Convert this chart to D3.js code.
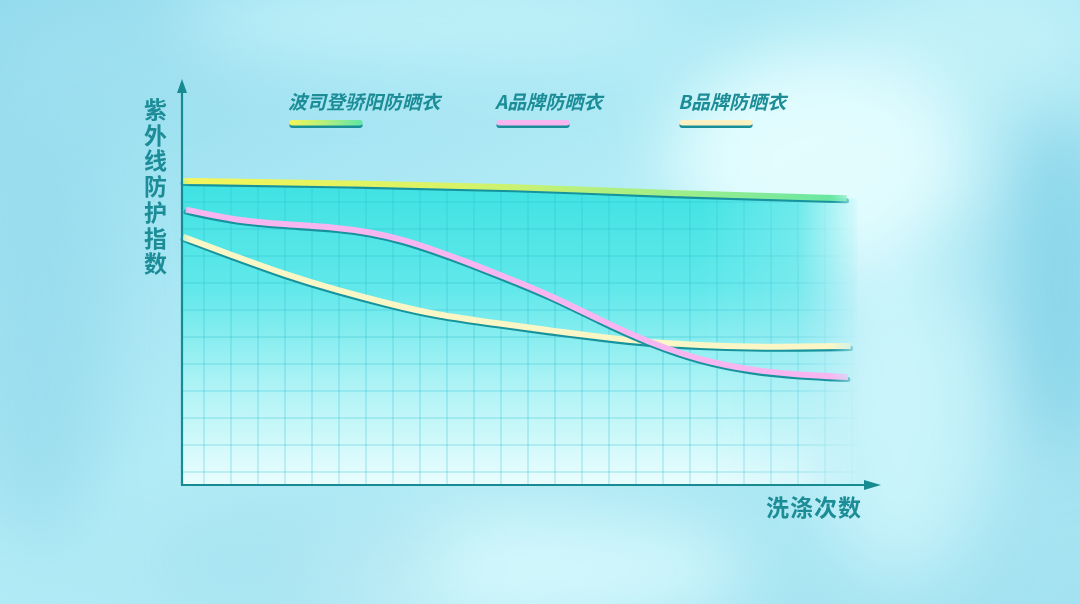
<!DOCTYPE html>
<html><head><meta charset="utf-8">
<script src="https://cdn.jsdelivr.net/npm/d3@7"></script>
<style>html,body{margin:0;padding:0;overflow:hidden;background:#a8e6f2}</style>
</head><body><svg id="c" width="1080" height="604"></svg>
<script>
// ---- data ----
const seriesNames = ["波司登骄阳防晒衣", "A品牌防晒衣", "B品牌防晒衣"];
const yAxisTitle = ["紫", "外", "线", "防", "护", "指", "数"];
const xAxisTitle = "洗涤次数";
// wash count (x) and UV protection index (y)
const bosidengX = [0.22, 6.4, 12.6, 18.15, 24.8];
const bosidengY = [11.78, 11.69, 11.57, 11.32, 11.14];
const brandAX = [0.33, 2.22, 4.07, 5.93, 7.15, 8.37, 9.63, 10.85, 12.07, 13.81, 15.67, 17.52, 19.37, 21.22, 23.07, 24.85];
const brandAY = [10.72, 10.31, 10.17, 10.06, 9.89, 9.61, 9.19, 8.74, 8.26, 7.56, 6.63, 5.78, 5.15, 4.78, 4.59, 4.52];
const brandBX = [0.22, 2.21, 4.06, 5.91, 7.77, 9.62, 11.96, 13.81, 15.67, 17.52, 19.37, 21.22, 23.07, 24.95];
const brandBY = [9.71, 8.97, 8.30, 7.74, 7.25, 6.81, 6.50, 6.24, 6.01, 5.80, 5.70, 5.64, 5.64, 5.67];
const gridXTicks = d3.range(1, 26);
const gridYTicks = d3.range(1, 13);

const svg = d3.select("#c");
const W = 1080, H = 604;
const x = d3.scaleLinear().domain([0, 25]).range([177, 852]);
const y = d3.scaleLinear().domain([0, 12]).range([499, 175]);
const axisX = 182, axisY = 485;

const defs = svg.append("defs");
// background
const bg = defs.append("linearGradient").attr("id", "bg").attr("x1", 0).attr("y1", 0).attr("x2", 1).attr("y2", 1);
[["0%", "#93dbee"], ["45%", "#b3ecf6"], ["100%", "#a3e2f0"]].forEach(s => bg.append("stop").attr("offset", s[0]).attr("stop-color", s[1]));
defs.append("filter").attr("id", "blur").attr("x", "-50%").attr("y", "-50%").attr("width", "200%").attr("height", "200%")
  .append("feGaussianBlur").attr("stdDeviation", 35);
defs.append("filter").attr("id", "soft").attr("x", "-5%").attr("y", "-50%").attr("width", "110%").attr("height", "200%")
  .append("feGaussianBlur").attr("stdDeviation", 0.7);

svg.append("rect").attr("width", W).attr("height", H).attr("fill", "url(#bg)");
const blobs = [
  [820, 160, 150, 110, "#e8feff", 0.9],
  [900, 420, 90, 160, "#d6fafd", 0.7],
  [520, 570, 230, 60, "#dcfbfe", 0.8],
  [430, 20, 260, 45, "#cdf7fc", 0.7],
  [1060, 280, 50, 170, "#80d0e7", 0.8],
  [40, 330, 70, 220, "#96daed", 0.7],
  [300, 560, 160, 50, "#a3e0ef", 0.6],
  [980, 40, 120, 60, "#c9f4fa", 0.6],
  [110, 60, 120, 60, "#a0e0f0", 0.5]
];
svg.append("g").attr("filter", "url(#blur)").selectAll("ellipse").data(blobs).join("ellipse")
  .attr("cx", d => d[0]).attr("cy", d => d[1]).attr("rx", d => d[2]).attr("ry", d => d[3])
  .attr("fill", d => d[4]).attr("opacity", d => d[5]);

// points
const greenPts = bosidengX.map((v, i) => [v, bosidengY[i]]);
const pinkPts = brandAX.map((v, i) => [v, brandAY[i]]);
const creamPts = brandBX.map((v, i) => [v, brandBY[i]]);
const areaGen = d3.area().x(d => x(d[0])).y0(axisY).y1(d => y(d[1])).curve(d3.curveBasis);
const areaPts = [[x.invert(axisX), bosidengY[0]]].concat(greenPts.slice(1), [[25.2, bosidengY[bosidengY.length - 1] - 0.02]]);

const fg = defs.append("linearGradient").attr("id", "fillg").attr("gradientUnits", "userSpaceOnUse")
  .attr("x1", 0).attr("y1", 185).attr("x2", 0).attr("y2", axisY);
[["0%", "#3fe2e3"], ["35%", "#62e8ea"], ["65%", "#aaf2f5"], ["100%", "#eafdfe"]]
  .forEach(s => fg.append("stop").attr("offset", s[0]).attr("stop-color", s[1]));
const fm = defs.append("linearGradient").attr("id", "fadeR").attr("gradientUnits", "userSpaceOnUse")
  .attr("x1", 700).attr("y1", 0).attr("x2", 862).attr("y2", 0);
[["0%", "#fff", 1], ["60%", "#fff", 0.75], ["100%", "#fff", 0]].forEach(s => fm.append("stop").attr("offset", s[0]).attr("stop-color", s[1]).attr("stop-opacity", s[2]));
defs.append("mask").attr("id", "maskR").attr("maskUnits", "userSpaceOnUse").attr("x", 0).attr("y", 0).attr("width", W).attr("height", H)
  .append("rect").attr("x", 0).attr("y", 0).attr("width", W).attr("height", H).attr("fill", "url(#fadeR)");
const lm = defs.append("linearGradient").attr("id", "fadeL").attr("gradientUnits", "userSpaceOnUse")
  .attr("x1", 180).attr("y1", 0).attr("x2", 865).attr("y2", 0);
[["0%", "#fff", 0.6], ["1.5%", "#fff", 1], ["95%", "#fff", 1], ["100%", "#fff", 0]].forEach(s => lm.append("stop").attr("offset", s[0]).attr("stop-color", s[1]).attr("stop-opacity", s[2]));
defs.append("mask").attr("id", "maskL").attr("maskUnits", "userSpaceOnUse").attr("x", 0).attr("y", 0).attr("width", W).attr("height", H)
  .append("rect").attr("x", 0).attr("y", 0).attr("width", W).attr("height", H).attr("fill", "url(#fadeL)");

defs.append("clipPath").attr("id", "areaClip").append("path").attr("d", areaGen(areaPts));

const plot = svg.append("g").attr("mask", "url(#maskR)");
plot.append("path").attr("d", areaGen(areaPts)).attr("fill", "url(#fillg)");
// grid
const grid = plot.append("g").attr("clip-path", "url(#areaClip)");
grid.selectAll("line.v").data(gridXTicks).join("line").attr("class", "v")
  .attr("x1", d => x(d)).attr("x2", d => x(d)).attr("y1", 170).attr("y2", axisY)
  .attr("stroke", "#27b9cf").attr("stroke-opacity", 0.42).attr("stroke-width", 1);
grid.selectAll("line.h").data(gridYTicks).join("line").attr("class", "h")
  .attr("y1", d => y(d)).attr("y2", d => y(d)).attr("x1", axisX).attr("x2", 860)
  .attr("stroke", "#27b9cf").attr("stroke-opacity", 0.42).attr("stroke-width", 1);

// line gradient for top series
const lg = defs.append("linearGradient").attr("id", "greenG").attr("gradientUnits", "userSpaceOnUse")
  .attr("x1", 182).attr("y1", 0).attr("x2", 855).attr("y2", 0);
[["0%", "#f4f55a"], ["40%", "#d9f366"], ["75%", "#9cee8c"], ["100%", "#5fe6a6"]].forEach(s => lg.append("stop").attr("offset", s[0]).attr("stop-color", s[1]));

const lineGen = d3.line().x(d => x(d[0])).y(d => y(d[1])).curve(d3.curveBasis);
const seriesData = [
  { pts: greenPts, color: "url(#greenG)" },
  { pts: creamPts, color: "#fbf6c6" },
  { pts: pinkPts, color: "#f8b6f1" }
];
const lines = svg.append("g").attr("mask", "url(#maskL)");
seriesData.forEach(s => {
  lines.append("path").attr("d", lineGen(s.pts)).attr("fill", "none")
    .attr("stroke", "#16939d").attr("stroke-width", 5).attr("stroke-linecap", "round")
    .attr("transform", "translate(0,2.6)").attr("filter", "url(#soft)");
  lines.append("path").attr("d", lineGen(s.pts)).attr("fill", "none")
    .attr("stroke", s.color).attr("stroke-width", 6).attr("stroke-linecap", "butt")
    .attr("filter", "url(#soft)");
});

// axes
const axisColor = "#178a92";
const axes = svg.append("g");
axes.append("line").attr("x1", axisX).attr("x2", axisX).attr("y1", axisY + 1).attr("y2", 88)
  .attr("stroke", axisColor).attr("stroke-width", 2.2);
axes.append("path").attr("d", `M${axisX},79 L${axisX - 5},93 L${axisX + 5},93 Z`).attr("fill", axisColor);
axes.append("line").attr("x1", axisX - 1).attr("x2", 870).attr("y1", axisY).attr("y2", axisY)
  .attr("stroke", axisColor).attr("stroke-width", 2.2);
axes.append("path").attr("d", `M881,${axisY} L864,${axisY - 5} L864,${axisY + 5} Z`).attr("fill", axisColor);

const font = "'Noto Sans CJK SC', 'Noto Sans', sans-serif";
const textColor = "#1c8d97";
// y title (one character per line)
svg.append("g").selectAll("text").data(yAxisTitle).join("text")
  .attr("x", 155.5).attr("y", (d, i) => 118 + i * 25.7).attr("text-anchor", "middle")
  .attr("font-family", font).attr("font-weight", 700).attr("font-size", 23).attr("fill", textColor)
  .text(d => d);
// x title
svg.append("text").attr("x", 862).attr("y", 516).attr("text-anchor", "end")
  .attr("font-family", font).attr("font-weight", 700).attr("font-size", 23).attr("letter-spacing", 1)
  .attr("fill", textColor).text(xAxisTitle);

// legend
const legendX = [288, 495, 678];
const legendColors = ["#f4f55a", "#f8b6f1", "#fbf1c2"];
legendX.forEach((lx, i) => {
  const g = defs.append("linearGradient").attr("id", "legG" + i).attr("gradientUnits", "userSpaceOnUse")
    .attr("x1", lx + 2).attr("y1", 0).attr("x2", lx + 74).attr("y2", 0);
  const stops = i === 0 ? [["0%", "#f4f55a"], ["45%", "#b9f07a"], ["100%", "#5fe6a6"]]
    : [["0%", legendColors[i]], ["100%", legendColors[i]]];
  stops.forEach(s => g.append("stop").attr("offset", s[0]).attr("stop-color", s[1]));
});
const leg = svg.append("g");
seriesNames.forEach((name, i) => {
  const lx = legendX[i];
  leg.append("text").attr("x", lx).attr("y", 108.5)
    .attr("font-family", font).attr("font-weight", 700).attr("font-size", 19).attr("font-style", "italic")
    .attr("fill", textColor).text(name);
  leg.append("rect").attr("x", lx + 1.5).attr("y", 122.5).attr("width", 73).attr("height", 5.5).attr("rx", 2.75)
    .attr("fill", "#178e98");
  leg.append("rect").attr("x", lx + 1.5).attr("y", 120).attr("width", 73).attr("height", 5.5).attr("rx", 2.75)
    .attr("fill", "url(#legG" + i + ")");
});
</script></body></html>
